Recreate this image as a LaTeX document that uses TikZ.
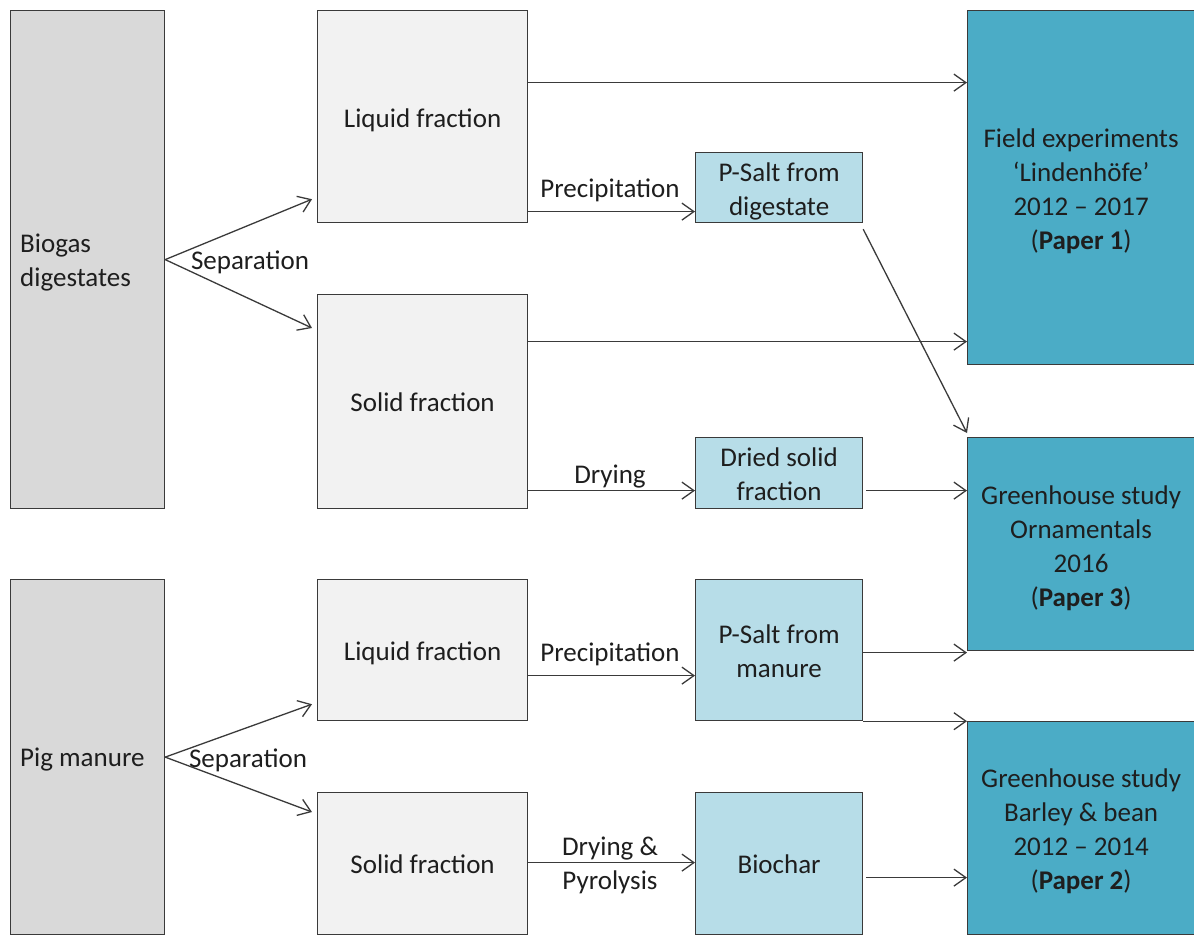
\documentclass[tikz,border=0pt]{standalone}
\usepackage{fontspec}
\setmainfont{Carlito}
\usetikzlibrary{arrows.meta}
\definecolor{edge}{HTML}{3A3A3A}
\definecolor{txt}{HTML}{1E1E1E}
\definecolor{grayA}{HTML}{D9D9D9}
\definecolor{grayB}{HTML}{F2F2F2}
\definecolor{lblue}{HTML}{B7DDE8}
\definecolor{teal}{HTML}{4BACC6}
\begin{document}
\begin{tikzpicture}[x=1pt,y=-1pt,
  every node/.style={font=\fontsize{27}{34}\selectfont, text=txt},
  box/.style={draw=edge, line width=1.2pt, inner sep=0pt, anchor=north west},
  src/.style={box, fill=grayA, minimum width=154pt},
  frac/.style={box, fill=grayB, minimum width=210pt},
  prod/.style={box, fill=lblue, minimum width=167pt},
  res/.style={box, fill=teal, minimum width=227pt},
  lab/.style={inner sep=0pt, align=center},
  arr/.style={draw=edge, line width=1.3pt, -{Straight Barb[length=12pt,width=17pt,line width=1.3pt]}}
]
\useasboundingbox (0,0) rectangle (1194,935);
% source boxes
\node[src, minimum height=498pt] (bio) at (10,10) {};
\node[src, minimum height=355pt] (pig) at (10,579) {};
% fractions
\node[frac, minimum height=212pt] (liq1) at (317,10) {};
\node[frac, minimum height=214pt] (sol1) at (317,294) {};
\node[frac, minimum height=141pt] (liq2) at (317,579) {};
\node[frac, minimum height=142pt] (sol2) at (317,792) {};
% products
\node[prod, minimum height=70pt] (psalt1) at (695,152) {};
\node[prod, minimum height=71pt] (dried) at (695,437) {};
\node[prod, minimum height=141pt] (psalt2) at (695,579) {};
\node[prod, minimum height=142pt] (biochar) at (695,792) {};
% results
\node[res, minimum height=354pt] (field) at (967,10) {};
\node[res, minimum height=213pt] (gh1) at (967,437) {};
\node[res, minimum height=213pt] (gh2) at (967,721) {};
% box texts
\node[lab, align=left, anchor=west] (bioT) at ([xshift=10pt,yshift=-3pt]bio.west) {Biogas\\digestates};
\node[lab, align=left, anchor=west] (pigT) at ([xshift=10pt,yshift=-2pt]pig.west) {Pig manure};
\node[lab] (liq1T) at ([yshift=-4pt]liq1.center) {Liquid fraction};
\node[lab] (sol1T) at ([yshift=-1pt]sol1.center) {Solid fraction};
\node[lab] (liq2T) at ([yshift=-3pt]liq2.center) {Liquid fraction};
\node[lab] (sol2T) at ([yshift=-1pt]sol2.center) {Solid fraction};
\node[lab] (psalt1T) at ([yshift=-4pt]psalt1.center) {P-Salt from\\digestate};
\node[lab] (driedT) at ([yshift=-1pt]dried.center) {Dried solid\\fraction};
\node[lab] (psalt2T) at ([yshift=-1pt]psalt2.center) {P-Salt from\\manure};
\node[lab] (biocharT) at ([yshift=-1pt]biochar.center) {Biochar};
\node[lab] (fieldT) at ([yshift=-4pt]field.center) {Field experiments\\‘Lindenhöfe’\\2012 – 2017\\(\textbf{Paper 1})};
\node[lab] (gh1T) at ([yshift=-4pt]gh1.center) {Greenhouse study\\Ornamentals\\2016\\(\textbf{Paper 3})};
\node[lab] (gh2T) at ([yshift=-3pt]gh2.center) {Greenhouse study\\Barley \& bean\\2012 – 2014\\(\textbf{Paper 2})};
% separation
\draw[arr] (bio.east) -- ([xshift=-5pt,yshift=24pt]liq1.south west);
\draw[arr] (bio.east) -- ([xshift=-5pt,yshift=-34pt]sol1.north west);
\draw[arr] (pig.east) -- ([xshift=-5pt,yshift=17pt]liq2.south west);
\draw[arr] (pig.east) -- ([xshift=-5pt,yshift=-20pt]sol2.north west);
\node[lab] (sep1) at (250,262) {Separation};
\node[lab] (sep2) at (248,760) {Separation};
% horizontal connectors
\coordinate (a1) at ([yshift=34pt]liq1.east);
\draw[arr] (a1) -- (a1 -| field.west);
\coordinate (a2) at ([yshift=-95pt]liq1.east);
\draw[arr] (a2) -- (a2 -| psalt1.west);
\coordinate (a3) at ([yshift=60pt]sol1.east);
\draw[arr] (a3) -- (a3 -| field.west);
\coordinate (a4) at ([yshift=-89pt]sol1.east);
\draw[arr] (a4) -- (a4 -| dried.west);
\coordinate (a5) at ([xshift=3pt,yshift=-17.5pt]dried.east);
\draw[arr] (a5) -- (a5 -| gh1.west);
\coordinate (a6) at ([yshift=-25.5pt]liq2.east);
\draw[arr] (a6) -- (a6 -| psalt2.west);
\coordinate (a7) at ([yshift=-2.5pt]psalt2.east);
\draw[arr] (a7) -- (a7 -| gh1.west);
\coordinate (a8) at (psalt2.south east);
\draw[arr] (a8) -- (a8 -| gh2.west);
\coordinate (a9) at ([yshift=1pt]sol2.east);
\draw[arr] (a9) -- (a9 -| biochar.west);
\coordinate (a10) at ([xshift=3pt,yshift=-14pt]biochar.east);
\draw[arr] (a10) -- (a10 -| gh2.west);
\draw[arr] ([yshift=-6pt]psalt1.south east) -- ([yshift=4pt]gh1.north west);
% labels
\node[lab] (prec1) at (610,190) {Precipitation};
\node[lab] (dry1) at (610,477) {Drying};
\node[lab] (prec2) at (610,654) {Precipitation};
\node[lab] (dry2) at (610,865) {Drying \&\\Pyrolysis};
\end{tikzpicture}
\end{document}
